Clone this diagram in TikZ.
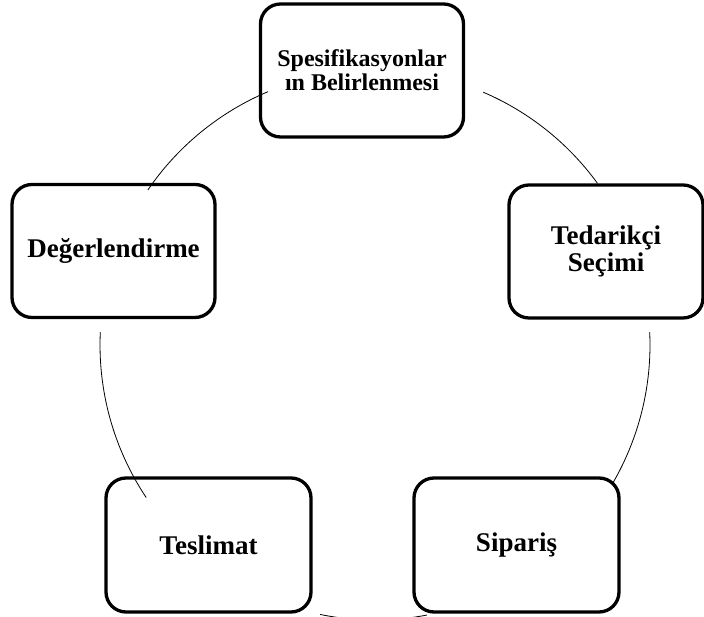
\documentclass[tikz,border=0pt]{standalone}
\usepackage{fontspec}
\setmainfont{Liberation Serif}
\begin{document}
\begin{tikzpicture}[x=1pt,y=1pt,
  stepbox/.style={draw, line width=3.3pt, rounded corners=20pt, inner sep=0pt,
    minimum width=203pt, minimum height=133pt, align=center,
    font=\bfseries\fontsize{27}{27}\selectfont},
  ring/.style={line width=0.8pt}]
\useasboundingbox (0,0) rectangle (704,617);
\coordinate (c) at (375,272);
\node[stepbox, font=\bfseries\fontsize{24}{24}\selectfont] (spec) at (362,546.5) {Spesifikasyonlar\\ın Belirlenmesi};
\node[stepbox, minimum width=194pt] (ted) at (606,365.5) {Tedarikçi\\Seçimi};
\node[stepbox] (deg) at (113.5,366) {Değerlendirme};
\node[stepbox, minimum width=205pt, minimum height=134pt] (tes) at (208.5,72) {Teslimat};
\node[stepbox, minimum width=205pt, minimum height=134pt] (sip) at (516.5,72) {Sipariş};
\draw[ring] ([shift={(112.9:275)}]c) arc[start angle=112.9, end angle=145.7, radius=275];
\draw[ring] ([shift={(66.8:275)}]c) arc[start angle=66.8, end angle=36, radius=275];
\draw[ring] ([shift={(2.7:275)}]c) arc[start angle=2.7, end angle=-30.3, radius=275];
\draw[ring] ([shift={(177.3:275)}]c) arc[start angle=177.3, end angle=213.7, radius=275];
\draw[ring] ([shift={(258.5:275)}]c) arc[start angle=258.5, end angle=280.9, radius=275];
\end{tikzpicture}
\end{document}
